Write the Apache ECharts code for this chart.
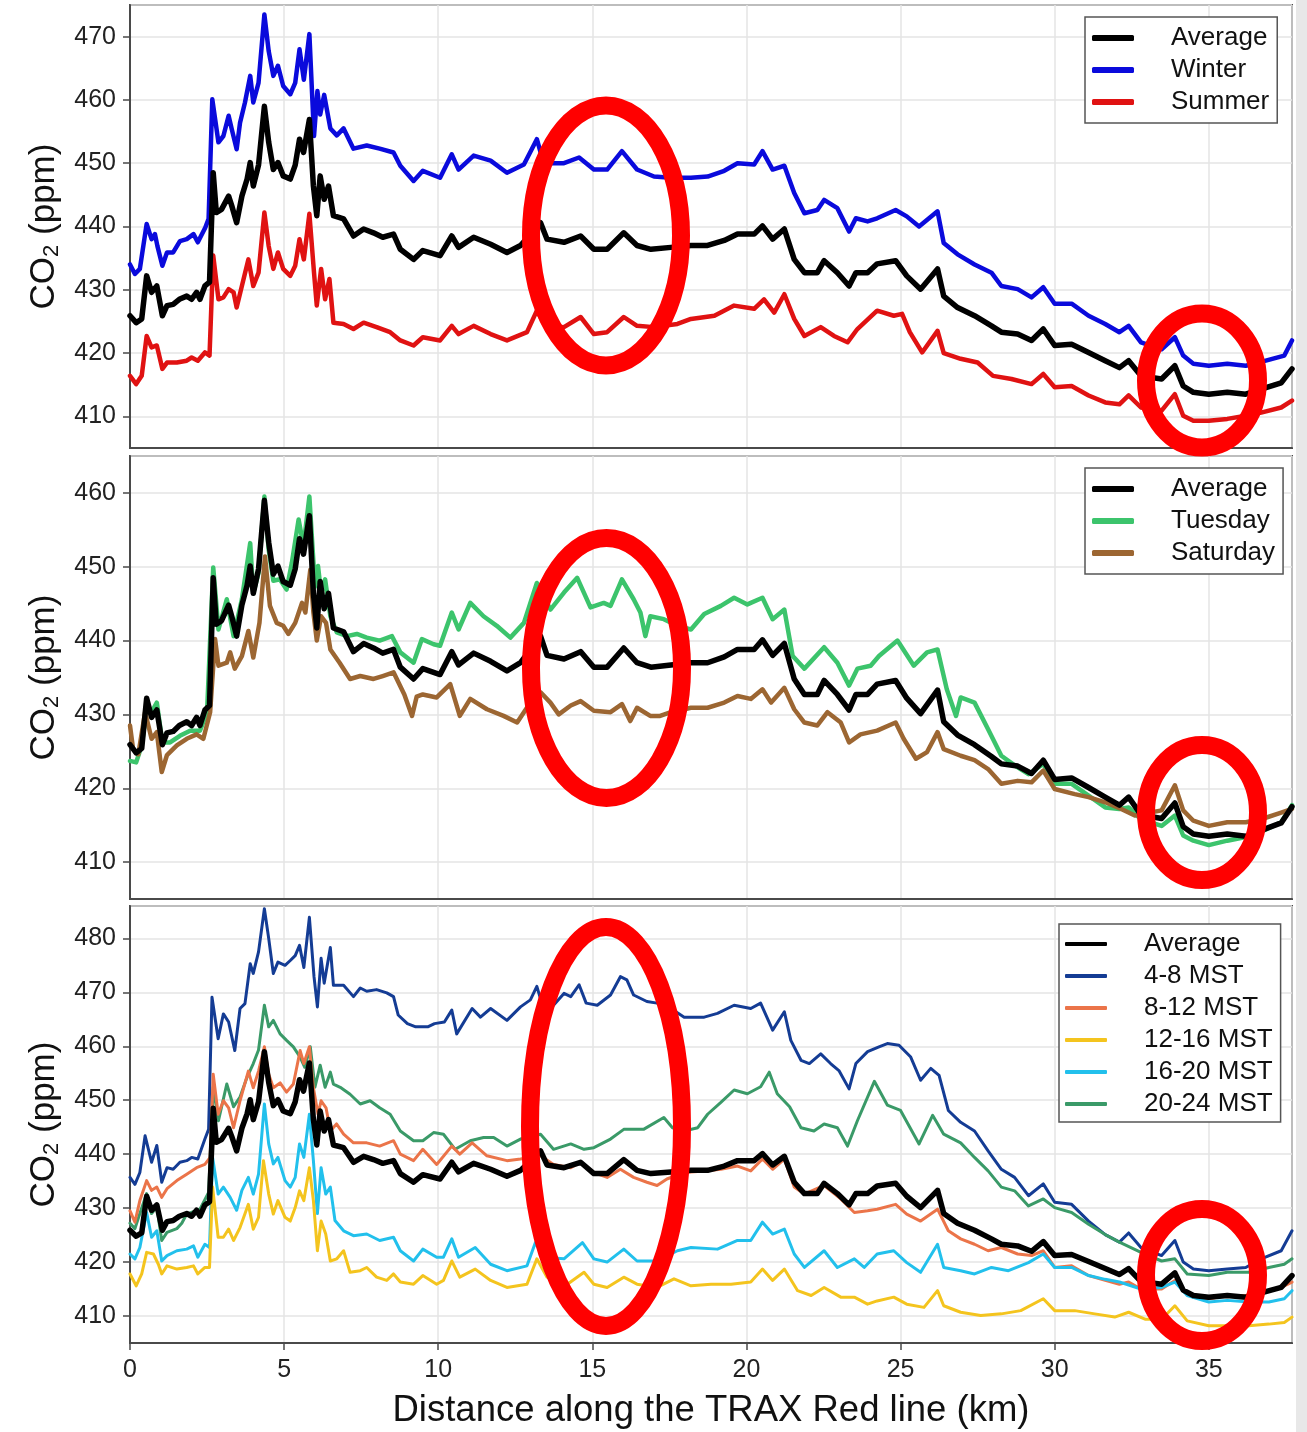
<!DOCTYPE html>
<html><head><meta charset="utf-8">
<script src="https://cdn.jsdelivr.net/npm/echarts@6/dist/echarts.min.js"></script>
<style>html,body{margin:0;padding:0;background:#fff}#c{width:1307px;height:1432px}</style>
</head><body><div id="c"></div><script>
// ---------- DATA (distance km, CO2 ppm) ----------
const average = [[0,425.9],[0.2,424.8],[0.38,425.4],[0.54,432.2],[0.7,429.6],[0.87,430.6],[1.05,425.9],[1.2,427.5],[1.4,427.7],[1.6,428.5],[1.84,429],[2.0,428.5],[2.16,429.6],[2.27,428.5],[2.43,430.6],[2.58,431.2],[2.7,448.5],[2.8,442.2],[2.97,442.7],[3.2,444.8],[3.3,443.3],[3.46,440.6],[3.63,444.8],[3.8,447.5],[3.9,450.1],[4.0,446.4],[4.17,449.7],[4.36,459],[4.5,453.3],[4.65,449],[4.8,450.1],[4.97,448],[5.2,447.5],[5.36,449.7],[5.5,453.8],[5.63,451.7],[5.82,456.9],[5.95,446.4],[6.06,441.7],[6.17,448],[6.3,444.3],[6.44,446.4],[6.6,441.7],[6.93,441.2],[7.25,438.5],[7.58,439.6],[7.9,439],[8.2,438.3],[8.55,438.8],[8.77,436.4],[9.2,434.8],[9.5,436.2],[10.06,435.4],[10.44,438.5],[10.66,436.7],[11.15,438.3],[11.7,437.2],[12.23,435.9],[12.67,437],[13.32,440.6],[13.53,438],[14.08,437.5],[14.62,438.5],[15.05,436.4],[15.48,436.4],[16.02,439],[16.45,437],[16.9,436.4],[17.55,436.7],[18.2,437],[18.74,437],[19.28,437.8],[19.71,438.8],[20.25,438.8],[20.52,440.1],[20.85,438],[21.23,439.6],[21.55,434.8],[21.88,432.7],[22.3,432.7],[22.52,434.6],[22.95,432.7],[23.33,430.6],[23.55,432.7],[23.93,432.7],[24.24,434.1],[24.84,434.6],[25.2,432.2],[25.65,430.1],[26.2,433.3],[26.4,429],[26.85,427.2],[27.4,425.9],[27.95,424.3],[28.27,423.3],[28.8,423],[29.25,422],[29.63,423.8],[30.0,421.2],[30.55,421.4],[31.1,420.1],[31.64,418.8],[32.1,417.7],[32.4,418.8],[32.8,416.4],[33.47,415.9],[33.9,418],[34.17,414.8],[34.5,413.8],[35.0,413.5],[35.6,413.8],[36.2,413.5],[36.7,414.3],[37.35,415.3],[37.7,417.5]];

const winter = [[0,434],[0.16,432.5],[0.32,433.3],[0.54,440.4],[0.7,438],[0.81,438.8],[0.89,436.9],[1.05,433.8],[1.2,435.9],[1.4,435.9],[1.62,437.7],[1.84,438],[2.06,438.8],[2.2,437.5],[2.44,439.8],[2.55,441.2],[2.67,460.1],[2.87,453.3],[3.03,454.3],[3.2,457.5],[3.3,455.4],[3.46,452.2],[3.57,456.4],[3.73,459.6],[3.9,463.8],[4.0,459.6],[4.17,462.7],[4.36,473.5],[4.5,467.7],[4.65,463.8],[4.8,465.4],[4.97,462.2],[5.2,460.9],[5.36,462.7],[5.5,468],[5.64,463.2],[5.82,470.4],[5.97,454.3],[6.08,461.4],[6.17,457.7],[6.3,460.8],[6.5,455.5],[6.71,454.4],[6.93,455.5],[7.25,452.3],[7.68,452.8],[8.1,452.3],[8.55,451.7],[8.77,449.6],[9.2,447.2],[9.5,448.8],[10.06,447.7],[10.44,451.4],[10.66,449],[11.15,451.2],[11.7,450.4],[12.23,448.5],[12.78,449.8],[13.2,453.8],[13.42,450],[14.08,450],[14.57,450.9],[15.05,449],[15.48,449],[15.96,451.9],[16.45,449],[17.0,447.9],[17.55,447.7],[18.2,447.7],[18.74,447.9],[19.28,448.8],[19.71,450],[20.25,449.8],[20.52,451.9],[20.85,449],[21.23,449.6],[21.55,445.3],[21.88,442.1],[22.3,442.6],[22.52,444.2],[22.95,442.9],[23.33,439.2],[23.55,441.3],[23.93,440.8],[24.24,441.3],[24.84,442.6],[25.2,441.6],[25.6,440],[26.2,442.4],[26.4,437.4],[26.85,435.6],[27.4,434],[27.95,432.7],[28.27,430.6],[28.8,430.1],[29.25,428.8],[29.63,430.4],[30.0,427.8],[30.55,427.8],[31.1,425.9],[31.64,424.6],[32.1,423.3],[32.4,424.3],[32.8,421.7],[33.47,420.6],[33.9,422.5],[34.17,419.6],[34.5,418.3],[35.0,418],[35.6,418.3],[36.2,418],[36.7,418.6],[37.45,419.6],[37.7,422]];

const summer = [[0,416.4],[0.2,415.1],[0.38,416.4],[0.54,422.7],[0.7,420.9],[0.87,421.2],[1.05,417.5],[1.2,418.5],[1.52,418.5],[1.84,418.8],[2.0,419.3],[2.2,418.8],[2.43,420.1],[2.58,419.6],[2.7,435.4],[2.87,428.5],[3.03,428.8],[3.2,430.1],[3.36,429.6],[3.46,427.2],[3.63,430.6],[3.84,434.8],[4.0,430.6],[4.17,432.7],[4.36,442.2],[4.5,436.9],[4.65,433.3],[4.8,435.9],[4.97,433.3],[5.2,432.2],[5.36,433.8],[5.5,438],[5.64,434.8],[5.82,442],[5.97,432.7],[6.06,427.5],[6.2,433.3],[6.33,428.5],[6.47,431.7],[6.6,424.8],[6.93,424.6],[7.25,423.8],[7.58,424.8],[8.0,424.1],[8.44,423.3],[8.77,422],[9.2,421.2],[9.5,422.5],[10.06,422],[10.44,424.3],[10.66,423],[11.15,424.3],[11.7,423],[12.23,422],[12.88,423.3],[13.2,426.7],[13.48,424.3],[14.08,424.1],[14.62,425.7],[15.05,423],[15.48,423.3],[16.02,425.7],[16.45,424.3],[17.0,424.1],[17.76,424.6],[18.2,425.4],[18.96,425.9],[19.6,427.5],[20.25,427],[20.57,428.5],[20.9,426.4],[21.23,429.3],[21.55,425.4],[21.88,422.7],[22.41,424.1],[22.84,422.7],[23.28,421.7],[23.6,423.8],[24.24,426.7],[24.78,425.9],[25.05,426.2],[25.3,423.3],[25.7,420.1],[26.2,423.5],[26.4,420],[26.95,419.1],[27.5,418.5],[28.0,416.4],[28.6,415.9],[29.25,415.1],[29.63,416.7],[30.0,414.6],[30.55,414.8],[31.1,413.3],[31.64,412.2],[32.1,411.9],[32.4,413.3],[32.8,411.4],[33.47,410.9],[33.9,413.5],[34.17,410.1],[34.5,409.3],[35.0,409.3],[35.6,409.6],[36.2,410.1],[36.7,410.6],[37.35,411.4],[37.7,412.5]];

const tuesday = [[0,423.7],[0.2,423.5],[0.38,425.8],[0.54,430.7],[0.7,430.3],[0.87,431.6],[1.05,426.2],[1.3,426.2],[1.62,427.1],[1.95,427.8],[2.27,427.8],[2.5,430.3],[2.7,449.9],[2.87,441.5],[3.14,445.6],[3.36,440.6],[3.63,445.6],[3.9,453.2],[4.0,446.4],[4.17,449.2],[4.36,459.5],[4.5,452.3],[4.65,448.1],[4.86,448.3],[5.08,446.9],[5.25,450.5],[5.47,456.4],[5.63,452.8],[5.82,459.5],[6.0,447.3],[6.1,450.1],[6.2,446.4],[6.33,448.3],[6.5,443.3],[6.71,441.1],[7.04,440.6],[7.36,440.9],[7.68,440.4],[8.1,440],[8.5,440.6],[8.77,438.4],[9.2,437],[9.47,440.2],[9.85,439.5],[10.06,439.3],[10.44,443.8],[10.66,441.5],[11.04,445.1],[11.47,443.3],[11.9,442],[12.34,440.4],[12.78,442.4],[13.2,447.8],[13.64,444.2],[14.08,446.5],[14.51,448.5],[14.94,444.5],[15.37,445.1],[15.59,444.7],[15.96,448.3],[16.34,445.6],[16.56,443.8],[16.72,440.6],[16.88,443.3],[17.32,442.9],[17.76,442],[18.2,441.5],[18.63,443.6],[19.17,444.7],[19.6,445.8],[20.03,444.9],[20.52,445.8],[20.85,442.9],[21.23,444.2],[21.5,437.9],[21.88,436.2],[22.52,439.1],[22.95,437],[23.33,433.9],[23.6,436.2],[24.03,436.6],[24.3,437.9],[24.9,440],[25.43,436.6],[25.86,438.4],[26.2,438.8],[26.5,433.4],[26.8,429.8],[26.95,432.3],[27.4,431.6],[27.84,428],[28.27,424.4],[28.7,423.1],[29.15,421.9],[29.63,423.3],[30.0,420.6],[30.55,420.6],[31.1,419],[31.64,417.4],[32.1,417.2],[32.4,417.4],[32.8,415.8],[33.47,414.9],[33.9,416.3],[34.17,413.6],[34.5,412.9],[35.0,412.3],[35.6,412.9],[36.2,413.4],[36.7,414.1],[37.35,415.4],[37.7,417.7]];

const saturday = [[0,428.5],[0.1,425.3],[0.27,424.6],[0.49,430.3],[0.7,426.7],[0.87,427.6],[1.03,422.2],[1.2,424.5],[1.52,425.8],[1.84,426.7],[2.16,427.3],[2.38,426.7],[2.6,430.3],[2.76,440.2],[2.87,436.6],[3.14,437],[3.25,438.4],[3.4,436.2],[3.63,437.9],[3.84,441.3],[4.0,437.7],[4.2,442.4],[4.38,451.4],[4.54,444.7],[4.76,442.4],[4.97,442],[5.14,440.9],[5.36,442.4],[5.58,445.1],[5.69,443.8],[5.85,449.6],[5.95,443.8],[6.06,440],[6.2,443.3],[6.36,442.4],[6.5,438.8],[6.8,437],[7.14,434.8],[7.47,435.2],[7.9,434.8],[8.2,435.2],[8.55,435.7],[8.9,432.7],[9.15,429.8],[9.3,432.4],[9.5,432.7],[9.95,432.3],[10.39,434.1],[10.7,429.8],[11.04,432.1],[11.58,430.7],[12.12,429.8],[12.56,428.9],[12.99,431.6],[13.32,433],[13.64,431.6],[13.91,430],[14.3,431.2],[14.62,431.8],[15.05,430.5],[15.59,430.3],[15.96,431.4],[16.23,429.1],[16.45,430.9],[16.88,429.8],[17.2,429.8],[17.55,430.3],[18.2,430.9],[18.74,430.9],[19.28,431.6],[19.71,432.5],[20.14,432.1],[20.52,433.4],[20.8,431.6],[21.23,433.6],[21.55,430.7],[21.88,428.9],[22.3,428.5],[22.63,430.3],[23.06,428.9],[23.33,426.2],[23.7,427.3],[24.24,427.8],[24.84,428.9],[25.1,426.7],[25.5,424],[25.86,424.9],[26.2,427.6],[26.4,425.3],[26.95,424.4],[27.4,423.8],[27.84,422.6],[28.27,420.6],[28.8,421],[29.25,420.8],[29.63,422.4],[30.0,419.9],[30.65,419.2],[31.1,418.8],[31.64,418.1],[32.16,417.2],[32.6,416.3],[33.47,417],[33.9,420.4],[34.17,417],[34.5,415.6],[35.0,414.9],[35.6,415.4],[36.2,415.4],[36.7,415.8],[37.35,416.7],[37.7,417.2]];

const mst4to8 = [[0,435.7],[0.16,434.4],[0.32,436.6],[0.49,443.4],[0.7,438.5],[0.87,441.6],[1.03,434.8],[1.2,437.5],[1.4,437.2],[1.62,438.5],[1.84,438.8],[2.0,439.4],[2.2,439.1],[2.43,442.8],[2.55,444.6],[2.66,469.1],[2.86,461.4],[3.03,466],[3.2,464.5],[3.4,459.2],[3.57,467],[3.73,467.9],[3.9,475.3],[4.0,473.5],[4.17,477.5],[4.36,485.5],[4.5,480],[4.65,473.5],[4.8,475.6],[5.03,475],[5.2,475.9],[5.36,476.8],[5.5,478.7],[5.64,474.6],[5.82,483.9],[5.97,472.9],[6.08,467.3],[6.2,476.3],[6.3,471.7],[6.5,478.3],[6.6,471.3],[6.93,471.3],[7.25,469.2],[7.47,470.8],[7.68,470.2],[8.0,470.5],[8.33,469.9],[8.55,469.2],[8.7,465.8],[9.0,464.2],[9.27,463.6],[9.66,463.6],[9.88,464.2],[10.2,464.5],[10.44,466.7],[10.6,462.3],[11.1,467],[11.37,465.4],[11.7,467],[12.23,464.8],[12.67,467.3],[12.99,468.6],[13.2,471.1],[13.36,468],[13.74,467.6],[14.08,469.8],[14.3,469.2],[14.57,471.4],[14.8,468],[15.16,467.6],[15.59,469.5],[15.91,472.9],[16.12,472.3],[16.34,469.5],[16.77,468.3],[17.1,468],[17.55,467],[17.98,465.4],[18.63,465.4],[19.06,466.1],[19.6,467.6],[20.14,467],[20.46,468],[20.85,463],[21.23,466.4],[21.44,461.1],[21.77,457.4],[22.04,456.8],[22.41,458.6],[22.73,456.8],[23.0,455.5],[23.33,452.1],[23.55,456.8],[23.93,459],[24.3,459.9],[24.57,460.5],[24.95,460.2],[25.33,458],[25.65,453.7],[25.98,455.9],[26.25,454.6],[26.55,448.1],[26.95,445.9],[27.4,444.3],[27.84,440.6],[28.27,437.2],[28.7,435.7],[29.15,432.3],[29.63,434.5],[30.0,431.1],[30.55,430.7],[31.1,427.6],[31.64,425.1],[32.1,423.7],[32.4,425.4],[32.8,422.7],[33.47,421.2],[33.9,424],[34.17,420],[34.5,418.7],[35.0,418.4],[35.6,418.7],[36.2,419],[36.7,420.6],[37.35,422.1],[37.7,425.8]];

const mst8to12 = [[0,429.5],[0.16,427.4],[0.32,431.4],[0.54,435.1],[0.7,433.3],[0.87,433.9],[1.03,432],[1.2,433.6],[1.52,435.1],[1.84,436.3],[2.16,437.5],[2.43,438.1],[2.6,439.4],[2.7,454.8],[2.86,447.4],[3.03,449.9],[3.2,448.6],[3.36,444.9],[3.57,449.9],[3.84,455.4],[4.0,452.3],[4.17,455.4],[4.36,459.9],[4.5,454.8],[4.65,452.3],[4.87,453.2],[5.08,451.5],[5.3,453],[5.52,459.2],[5.64,456.8],[5.82,459.9],[5.95,452.3],[6.1,447.4],[6.2,449.9],[6.36,448.6],[6.5,444.3],[6.7,445.6],[6.93,443.7],[7.25,442.1],[7.68,442.1],[8.1,441.5],[8.55,442.5],[8.77,440],[9.2,438.8],[9.5,440.9],[9.95,438.1],[10.44,441.5],[10.7,440],[11.1,442.1],[11.58,439.7],[12.23,438.8],[12.67,439.1],[13.32,439.7],[13.74,438.1],[14.3,437.5],[14.62,438.5],[15.05,436.6],[15.48,435.7],[15.91,437.2],[16.34,435.7],[16.77,434.8],[17.1,434.2],[17.42,435.4],[17.98,436.6],[18.63,436.9],[19.17,437.2],[19.71,437.8],[20.14,436.9],[20.52,439.1],[20.85,437.2],[21.23,439.1],[21.55,433.9],[21.88,432.6],[22.52,434.2],[23.06,431.7],[23.5,429.2],[23.93,429.5],[24.24,429.8],[24.84,430.7],[25.2,428.9],[25.65,427.6],[26.2,429.8],[26.55,425.8],[26.95,424.3],[27.4,423.3],[27.84,422.1],[28.27,422.7],[28.8,421.5],[29.25,421.2],[29.63,422.1],[30.0,419],[30.55,419.3],[31.1,417.5],[31.64,416.6],[32.1,415.9],[32.4,416.3],[32.8,415],[33.47,415],[33.9,416.6],[34.17,414.7],[34.5,413.5],[35.0,413.2],[35.6,413.8],[36.2,413.8],[36.7,414.4],[37.35,415.3],[37.7,416.3]];

const mst12to16 = [[0,417.8],[0.2,415.6],[0.38,417.8],[0.54,421.8],[0.76,421.5],[0.92,419.6],[1.03,417.8],[1.2,419.3],[1.52,418.7],[1.84,419],[2.06,419.3],[2.2,417.8],[2.43,419],[2.58,419],[2.68,433.9],[2.86,424.6],[3.03,424.6],[3.2,426.1],[3.36,424],[3.57,426.4],[3.84,430.7],[4.0,426.1],[4.17,428.3],[4.33,438.8],[4.5,432.6],[4.65,428.9],[4.8,431.4],[5.03,428.3],[5.2,427.6],[5.36,430.1],[5.5,433.2],[5.64,431.4],[5.82,437.5],[5.95,431.4],[6.08,422.1],[6.2,427.6],[6.35,425.2],[6.5,420.2],[6.71,420.6],[6.93,422.1],[7.14,418.1],[7.47,418.4],[7.68,419],[8.0,417.2],[8.33,416.6],[8.55,417.8],[8.77,416.3],[9.2,415.9],[9.5,417.5],[9.95,415.9],[10.17,416.6],[10.44,420.2],[10.7,417.2],[11.2,418.7],[11.7,416.6],[12.23,415.3],[12.88,415.9],[13.2,420.6],[13.53,417.2],[14.19,415.9],[14.73,418.1],[15.05,415.9],[15.48,415.3],[16.02,417.2],[16.45,415.9],[17.1,415.3],[17.65,416.9],[18.2,415.6],[18.85,415.9],[19.5,415.9],[20.14,416.3],[20.52,418.7],[20.85,416.6],[21.23,418.7],[21.66,414.7],[22.1,413.8],[22.52,415.3],[23.06,413.5],[23.5,413.5],[23.93,412.2],[24.24,412.8],[24.78,413.5],[25.2,412.2],[25.76,411.6],[26.2,414.7],[26.4,411.9],[26.95,410.7],[27.6,410.1],[28.27,410.4],[28.9,411],[29.63,413.2],[30.0,411],[30.65,411],[31.3,410.4],[31.95,409.8],[32.4,410.7],[32.95,409.4],[33.47,409.4],[33.9,411.9],[34.3,409.1],[35.0,408.2],[35.6,408.2],[36.3,408.2],[36.95,408.5],[37.45,408.8],[37.7,409.8]];

const mst16to20 = [[0,421.5],[0.16,420.6],[0.32,422.7],[0.54,429.2],[0.7,424.6],[0.87,425.8],[1.03,420.2],[1.2,421.2],[1.52,422.1],[1.84,422.4],[2.06,423],[2.2,420.9],[2.43,423.3],[2.58,422.7],[2.68,439.4],[2.86,432.6],[3.03,433.9],[3.25,432],[3.46,429.6],[3.63,433.3],[3.84,435.7],[4.0,432.6],[4.17,436.3],[4.36,449.3],[4.5,441.9],[4.65,438.2],[4.8,439.4],[5.03,435.1],[5.2,433.9],[5.36,435.7],[5.5,441.9],[5.64,439.4],[5.82,447.4],[5.95,438.8],[6.08,429],[6.2,437.5],[6.35,432.6],[6.5,433.9],[6.65,427.7],[6.93,425.8],[7.25,424.9],[7.68,425.2],[8.1,424],[8.55,424.6],[8.77,422.1],[9.2,420.2],[9.5,422.4],[9.95,420.9],[10.17,420.9],[10.44,424.3],[10.66,420.9],[11.2,422.7],[11.7,419.6],[12.23,418.4],[12.88,419.3],[13.15,423.6],[13.42,420.9],[14.08,420.6],[14.68,423.6],[15.05,420.6],[15.48,420],[16.02,422.4],[16.45,420.2],[17.1,420.2],[17.76,422.1],[18.2,422.7],[19.06,422.4],[19.71,424],[20.14,424],[20.52,427.4],[20.85,425.2],[21.23,426.1],[21.55,421.5],[21.88,419],[22.52,422.1],[22.95,419],[23.5,420.6],[23.82,419],[24.24,421.5],[24.78,422.1],[25.2,419.9],[25.65,418.1],[26.2,423.3],[26.4,419],[26.95,418.4],[27.4,417.8],[27.95,419],[28.5,418.4],[29.15,419.9],[29.63,421.5],[30.0,419],[30.55,419],[31.1,417.5],[31.64,416.8],[32.1,416.3],[32.8,415],[33.47,415.3],[33.9,416.3],[34.3,413.8],[35.0,412.6],[35.6,412.9],[36.3,412.6],[36.95,412.6],[37.45,413.2],[37.7,414.7]];

const mst20to24 = [[0,427.2],[0.16,426.2],[0.32,429],[0.54,432.7],[0.7,429],[0.87,430.2],[1.03,424],[1.2,425.5],[1.52,426.2],[1.68,427.2],[1.84,428.9],[2.27,429.8],[2.55,432.9],[2.7,452.4],[2.87,446.2],[3.14,453],[3.36,448.8],[3.57,450.6],[3.8,454.3],[4.0,456.8],[4.17,459.3],[4.36,467.6],[4.5,463.6],[4.65,464.8],[4.87,462.3],[5.08,461.1],[5.3,459.9],[5.52,458],[5.67,456.1],[5.85,459.9],[6.0,452.4],[6.17,456.5],[6.33,452.4],[6.5,455.2],[6.6,453],[6.82,452.4],[7.14,451.1],[7.47,449.3],[7.79,449.9],[8.1,448.6],[8.44,447.4],[8.77,444.3],[9.2,442.5],[9.5,442.5],[9.85,444],[10.17,443.7],[10.55,440.9],[11.04,442.5],[11.47,443.1],[11.8,443.1],[12.23,441.5],[12.67,442.8],[13.32,443.7],[13.74,440.9],[14.3,441.9],[14.73,440.9],[15.05,441.2],[15.59,442.8],[16.02,444.6],[16.66,444.6],[17.32,446.8],[17.6,444.9],[17.98,444.3],[18.42,444.9],[18.74,447.4],[19.17,449.6],[19.6,451.9],[20.03,451.2],[20.46,452.5],[20.74,455.2],[21.0,451.2],[21.4,448.8],[21.77,444.9],[22.19,444.3],[22.52,445.6],[22.95,444.9],[23.28,441.5],[23.6,446.2],[24.15,453.5],[24.57,449.1],[25.0,448.1],[25.6,441.9],[26.04,447.2],[26.4,443.7],[26.95,442.1],[27.4,439.4],[27.84,436.9],[28.27,433.9],[28.7,433.2],[29.15,430.4],[29.63,431.7],[30.0,430.1],[30.55,429.2],[31.1,427],[31.64,425.1],[32.1,423.7],[32.8,421.8],[33.47,420.2],[33.9,420.6],[34.3,417.8],[35.0,417.5],[35.6,418.1],[36.3,418.1],[36.95,419],[37.45,419.6],[37.7,420.6]];

const legendSeason = ['Average','Winter','Summer'];
const legendDay = ['Average','Tuesday','Saturday'];
const legendHour = ['Average','4-8 MST','8-12 MST','12-16 MST','16-20 MST','20-24 MST'];
const yTitle = '{a|CO}{s|2}{a| (ppm)}';
const xTitle = 'Distance along the TRAX Red line (km)';

// ---------- CHART ----------
const FONT = '"Liberation Sans", Arial, sans-serif';
const chart = echarts.init(document.getElementById('c'), null, {renderer: 'canvas'});

const grids = [
  {left: 130, right: 15, top: 5, height: 443},
  {left: 130, right: 15, top: 456, height: 443},
  {left: 130, right: 15, top: 906, height: 437}
].map(g => Object.assign(g, {show: true, borderColor: '#4a4a4a', borderWidth: 2, backgroundColor: '#fff'}));

const yRanges = [[405, 475, 7], [405, 465, 6], [405, 486, 8]];

function xAxis(i) {
  const last = i === 2;
  return {
    type: 'value', gridIndex: i, min: 0, max: 37.7, interval: 5,
    axisLine: {show: true, onZero: false, lineStyle: {color: '#4a4a4a', width: 2}},
    axisTick: {show: last, length: 7, lineStyle: {color: '#4a4a4a', width: 1.5}},
    axisLabel: {show: last, fontFamily: FONT, fontSize: 25, color: '#222', margin: 15, showMaxLabel: false},
    splitLine: {show: true, lineStyle: {color: '#e4e4e4', width: 1.5}},
    name: last ? xTitle : '', nameLocation: 'middle', nameGap: 49,
    nameTextStyle: {fontFamily: FONT, fontSize: 36.5, color: '#111'}
  };
}
function yAxis(i) {
  const r = yRanges[i];
  return {
    type: 'value', gridIndex: i, min: r[0], max: r[1], splitNumber: r[2],
    axisLine: {show: true, lineStyle: {color: '#4a4a4a', width: 2}},
    axisTick: {show: true, length: 7, lineStyle: {color: '#4a4a4a', width: 1.5}},
    axisLabel: {fontFamily: FONT, fontSize: 25, color: '#222', margin: 14,
      showMinLabel: false, showMaxLabel: false,
      formatter: v => (v % 10 === 0 ? String(v) : '')},
    splitLine: {show: true, lineStyle: {color: '#e4e4e4', width: 1.5}},
    name: yTitle, nameLocation: 'middle', nameGap: 66, nameRotate: 90,
    nameTextStyle: {
      rich: {
        a: {fontFamily: FONT, fontSize: 35, color: '#111'},
        s: {fontFamily: FONT, fontSize: 22, color: '#111', padding: [16, 0, 0, 0]}
      }
    }
  };
}

function line(name, data, idx, color, width) {
  return {
    name, type: 'line', data, xAxisIndex: idx, yAxisIndex: idx,
    symbol: 'none', smooth: false, animation: false,
    lineStyle: {color, width, join: 'round', cap: 'round'},
    itemStyle: {color}, z: name === 'Average' ? 5 : 3
  };
}

const C = {
  avg: '#000000', winter: '#0a0adc', summer: '#e01212',
  tue: '#3cc46c', sat: '#9c6632',
  h48: '#143c94', h812: '#eb7449', h1216: '#f4c41e', h1620: '#22c0ec', h2024: '#3a9a68'
};

const series = [
  line('Winter', winter, 0, C.winter, 4.5),
  line('Summer', summer, 0, C.summer, 4.5),
  line('Average', average, 0, C.avg, 5.5),
  line('Tuesday', tuesday, 1, C.tue, 4.5),
  line('Saturday', saturday, 1, C.sat, 4.5),
  line('Average', average, 1, C.avg, 5.5),
  line('4-8 MST', mst4to8, 2, C.h48, 3),
  line('20-24 MST', mst20to24, 2, C.h2024, 3),
  line('8-12 MST', mst8to12, 2, C.h812, 3),
  line('16-20 MST', mst16to20, 2, C.h1620, 3),
  line('12-16 MST', mst12to16, 2, C.h1216, 3),
  line('Average', average, 2, C.avg, 5.5)
];

function legend(data, left, top, padding, textPad, iconH) {
  return {
    data, orient: 'vertical', left, top, padding,
    icon: 'roundRect', itemWidth: 42, itemHeight: iconH, itemGap: 6,
    backgroundColor: '#fff', borderColor: '#555', borderWidth: 1.5, borderRadius: 0,
    selectedMode: false,
    textStyle: {fontFamily: FONT, fontSize: 26, color: '#111', lineHeight: 24, padding: [0, 0, 0, textPad]}
  };
}

const ell = (cx, cy, rx, ry) => ({
  type: 'ellipse', shape: {cx, cy, rx, ry}, z: 100, silent: true,
  style: {fill: 'none', stroke: '#ff0000', lineWidth: 18}
});

chart.setOption({
  backgroundColor: '#fff',
  animation: false,
  grid: grids,
  xAxis: [xAxis(0), xAxis(1), xAxis(2)],
  yAxis: [yAxis(0), yAxis(1), yAxis(2)],
  legend: [
    legend(legendSeason, 1085, 17, [8, 8, 8, 7], 32, 6),
    legend(legendDay, 1085, 468, [8, 8, 8, 7], 32, 6),
    legend(legendHour, 1059, 924, [7, 8, 5, 6], 32, 4)
  ],
  series,
  graphic: [
    {type: 'rect', shape: {x: 1296, y: 0, width: 11, height: 1432}, style: {fill: '#e8e8e8'}, z: 90, silent: true},
    ell(606, 235.5, 75, 130),
    ell(1202, 380.5, 56, 67),
    ell(606.5, 668, 75.5, 130),
    ell(1202, 812.5, 56, 67.5),
    ell(606, 1126.5, 76, 199.5),
    ell(1202, 1275, 56, 66)
  ]
});
</script></body></html>
